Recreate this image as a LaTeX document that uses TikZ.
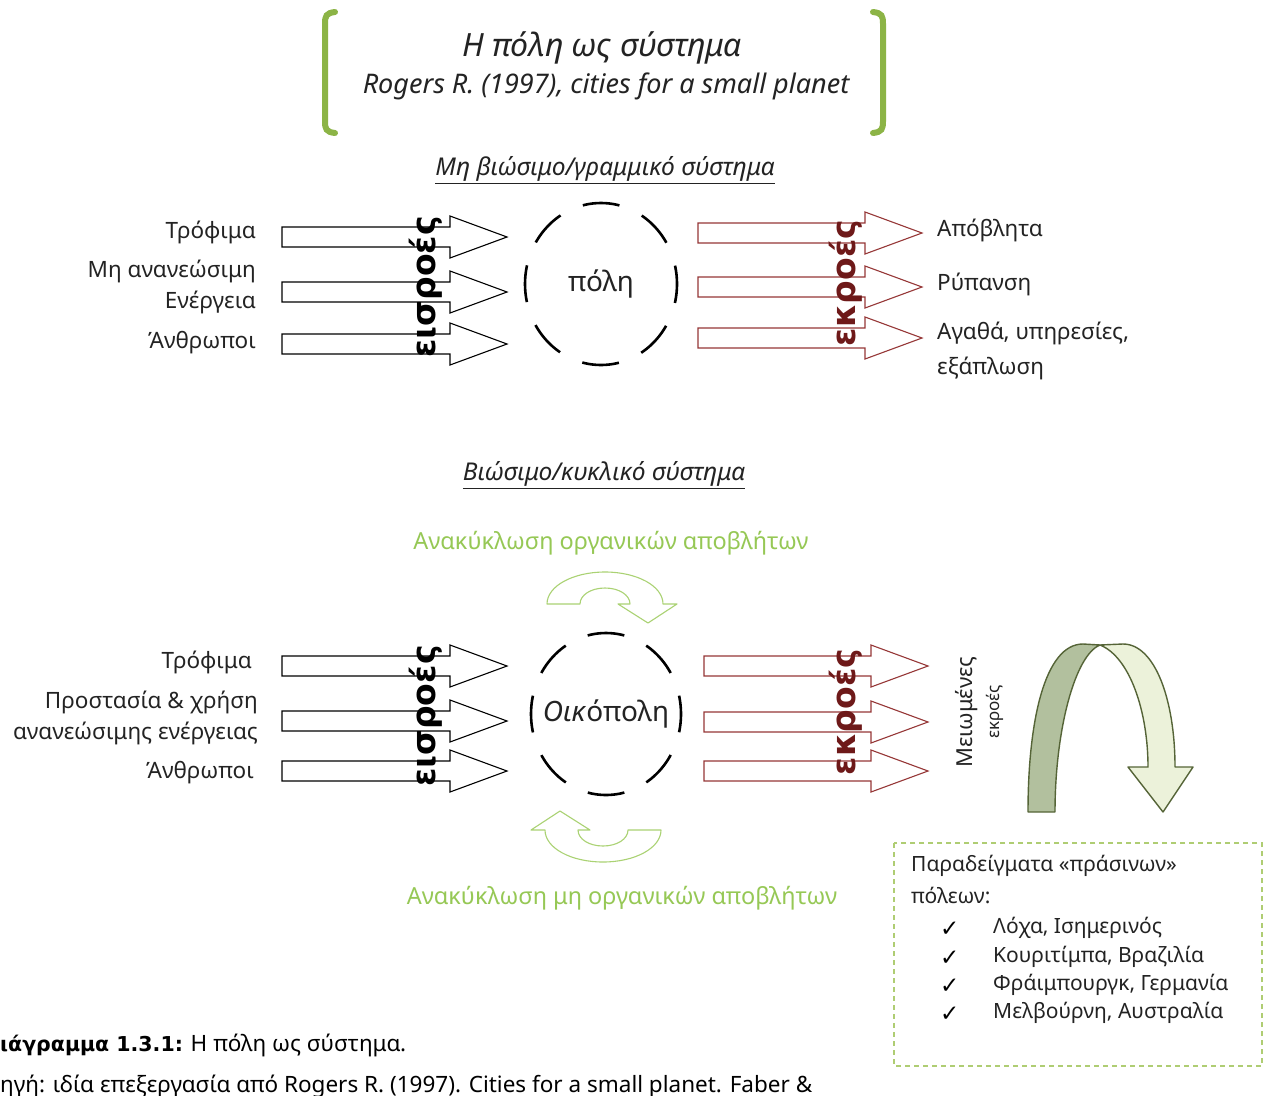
\documentclass[tikz,border=0pt]{standalone}
\usepackage{fontspec}
\setmainfont{Noto Sans}
\newfontfamily\symfont{DejaVu Sans}
\newfontfamily\heavyfont{DejaVu Sans}
\usetikzlibrary{shapes.geometric}

\definecolor{bracketgreen}{RGB}{140,180,70}
\definecolor{recyclegreen}{RGB}{150,200,85}
\definecolor{recycleline}{RGB}{170,210,115}
\definecolor{outred}{RGB}{150,55,55}
\definecolor{outtext}{RGB}{110,25,25}
\definecolor{archline}{RGB}{85,100,55}
\definecolor{archdark}{RGB}{178,192,158}
\definecolor{archlight}{RGB}{236,242,218}
\definecolor{boxgreen}{RGB}{175,205,115}
\definecolor{ink}{RGB}{35,35,35}

% block arrow: left end, tip, centre line, colour
\newcommand\flowarrow[4]{%
  \draw[#4, line width=1.1pt, fill=white, line join=miter]
    (#1,#3-10) -- (#2-57,#3-10) -- (#2-57,#3-21) -- (#2,#3)
    -- (#2-57,#3+21) -- (#2-57,#3+10) -- (#1,#3+10) -- cycle;}

% curved recycling arrow around the local origin (the city centre)
\newcommand\recyclearrow{%
  \draw[recycleline, line width=1.1pt, fill=white, line join=round]
    (-57,-113) .. controls (-57,-131) and (-31,-145) .. (1,-145)
    .. controls (33,-145) and (59,-131) .. (59,-113)
    -- (73,-113) -- (44,-94) -- (14,-113) -- (26,-113)
    .. controls (26,-122) and (15,-129) .. (1,-129)
    .. controls (-13,-129) and (-24,-122) .. (-24,-113) -- cycle;}

\begin{document}
\begin{tikzpicture}[x=1pt,y=-1pt,
  lbl/.style={inner sep=0pt, text=ink, font=\fontsize{22.5}{26}\selectfont},
  head/.style={inner sep=0pt, text=ink, font=\fontsize{24.5}{28}\selectfont\itshape},
  flowword/.style={inner sep=0pt, rotate=90, font=\fontsize{33}{37}\selectfont\heavyfont\bfseries},
  greenlbl/.style={inner sep=0pt, text=recyclegreen, font=\fontsize{23.5}{27}\selectfont},
  boxlbl/.style={inner sep=0pt, text=ink, anchor=west, font=\fontsize{21}{25}\selectfont},
  tick/.style={inner sep=0pt, text=black, anchor=west, font=\fontsize{23}{27}\selectfont\symfont},
  citynode/.style={draw=black, line width=2.6pt, ellipse, inner sep=0pt},
  citylabel/.style={inner sep=0pt, text=ink, font=\fontsize{28}{32}\selectfont},
  bracket/.style={draw=bracketgreen, line width=6pt, line cap=round},
  caption/.style={inner sep=0pt, anchor=base west, text=black, font=\fontsize{22.5}{27}\selectfont},
]
\useasboundingbox (0,0) rectangle (1271,1095);
\fill[white] (0,0) rectangle (1271,1095);

% ---------- heading ----------
\draw[bracket] (335,12) .. controls (326,13) and (325,16) .. (325,24) -- (325,121)
  .. controls (325,129) and (326,132) .. (335,133);
\draw[bracket] (873,12) .. controls (882,13) and (883,16) .. (883,24) -- (883,121)
  .. controls (883,129) and (882,132) .. (873,133);
\node[inner sep=0pt, text=ink, font=\fontsize{32}{36}\selectfont\itshape] (title) at (602,48) {Η πόλη ως σύστημα};
\node[inner sep=0pt, text=ink, font=\fontsize{27}{31}\selectfont\itshape] (source) at (606,86) {Rogers R. (1997), cities for a small planet};

% ---------- linear system ----------
\node[head] (linear) at (605,170) {\underline{Μη βιώσιμο/γραμμικό σύστημα}};

\flowarrow{282}{507}{237}{black}
\flowarrow{282}{507}{292}{black}
\flowarrow{282}{507}{344}{black}
\flowarrow{698}{922}{233}{outred}
\flowarrow{698}{922}{287}{outred}
\flowarrow{698}{922}{338}{outred}

\node[lbl, anchor=east] (a1) at (256,232) {Τρόφιμα};
\node[lbl, anchor=east] (a2) at (256,271) {Μη ανανεώσιμη};
\node[lbl, anchor=east] (a3) at (256,302) {Ενέργεια};
\node[lbl, anchor=east] (a4) at (256,343) {Άνθρωποι};

\node[flowword, text=black] (inA) at (426,287) {εισροές};
\node[flowword, text=outtext] (outA) at (846,283) {εκροές};

\node[citynode, minimum width=152pt, minimum height=162pt,
  dash pattern=on 37pt off 24.6pt, dash phase=18.5pt] (city) at (601,284) {};
\node[citylabel] (cityname) at (city.center) {πόλη};

\node[lbl, anchor=west] (b1) at (937,230) {Απόβλητα};
\node[lbl, anchor=west] (b2) at (937,284) {Ρύπανση};
\node[lbl, anchor=west] (b3) at (937,333) {Αγαθά, υπηρεσίες,};
\node[lbl, anchor=west] (b4) at (937,368) {εξάπλωση};

% ---------- circular system ----------
\node[head] (circular) at (604,475) {\underline{Βιώσιμο/κυκλικό σύστημα}};
\node[greenlbl] (rec1) at (611,543) {Ανακύκλωση οργανικών αποβλήτων};
\node[greenlbl] (rec2) at (622,898) {Ανακύκλωση μη οργανικών αποβλήτων};

\begin{scope}[shift={(604,717)}]
  \recyclearrow
\end{scope}
\begin{scope}[shift={(604,717)}, rotate=180]
  \recyclearrow
\end{scope}

\flowarrow{282}{507}{666}{black}
\flowarrow{282}{507}{721}{black}
\flowarrow{282}{507}{771}{black}
\flowarrow{704}{928}{666}{outred}
\flowarrow{704}{928}{722}{outred}
\flowarrow{704}{928}{771}{outred}

\node[lbl, anchor=east] (c1) at (252,662) {Τρόφιμα};
\node[lbl, anchor=east] (c2) at (258,702) {Προστασία \& χρήση};
\node[lbl, anchor=east] (c3) at (258,733) {ανανεώσιμης ενέργειας};
\node[lbl, anchor=east] (c4) at (254,773) {Άνθρωποι};

\node[flowword, text=black] (inB) at (426,716) {εισροές};
\node[flowword, text=outtext] (outB) at (846,712) {εκροές};

\node[citynode, minimum width=150pt, minimum height=162pt,
  dash pattern=on 37pt off 24.3pt, dash phase=18.5pt] (ecocity) at (606,714) {};
\node[citylabel] (ecocityname) at (ecocity.center) {\textit{Οικ}όπολη};

% reduced outflows
\node[inner sep=0pt, rotate=90, text=ink, font=\fontsize{22}{26}\selectfont] (less) at (967,712) {Μειωμένες};
\node[inner sep=0pt, rotate=90, text=ink, font=\fontsize{17}{20}\selectfont] (lessout) at (995,712) {εκροές};

\draw[archline, line width=1.4pt, fill=archdark, line join=round]
  (1028,812) .. controls (1028,720) and (1045,644) .. (1083,644) -- (1100,645)
  .. controls (1075,655) and (1055,730) .. (1055,812) -- cycle;
\draw[archline, line width=1.4pt, fill=archlight, line join=round]
  (1100,645) -- (1123,644) .. controls (1155,644) and (1175,700) .. (1175,767)
  -- (1193,767) -- (1163,812) -- (1128,767) -- (1148,767)
  .. controls (1148,712) and (1130,657) .. (1100,645) -- cycle;

% examples box
\draw[boxgreen, line width=1.2pt, dash pattern=on 5pt off 4pt] (894,843) rectangle (1262,1066);
\node[boxlbl] (ex0) at (911,866) {Παραδείγματα «πράσινων»};
\node[boxlbl] (ex00) at (911,895) {πόλεων:};
\node[tick] (k1) at (940,929) {✓};
\node[tick] (k2) at (940,958) {✓};
\node[tick] (k3) at (940,986) {✓};
\node[tick] (k4) at (940,1014) {✓};
\node[boxlbl] (e1) at (993,928) {Λόχα, Ισημερινός};
\node[boxlbl] (e2) at (993,957) {Κουριτίμπα, Βραζιλία};
\node[boxlbl] (e3) at (993,985) {Φράιμπουργκ, Γερμανία};
\node[boxlbl] (e4) at (993,1013) {Μελβούρνη, Αυστραλία};

% caption
\node[caption] (cap1) at (0,1051)
  {{\heavyfont\bfseries\fontsize{20.5}{25}\selectfont ιάγραμμα 1.3.1:} Η πόλη ως σύστημα.};
\node[caption] (cap2) at (0,1092)
  {ηγή: ιδία επεξεργασία από Rogers R. (1997). Cities for a small planet. Faber \&};
\end{tikzpicture}
\end{document}
